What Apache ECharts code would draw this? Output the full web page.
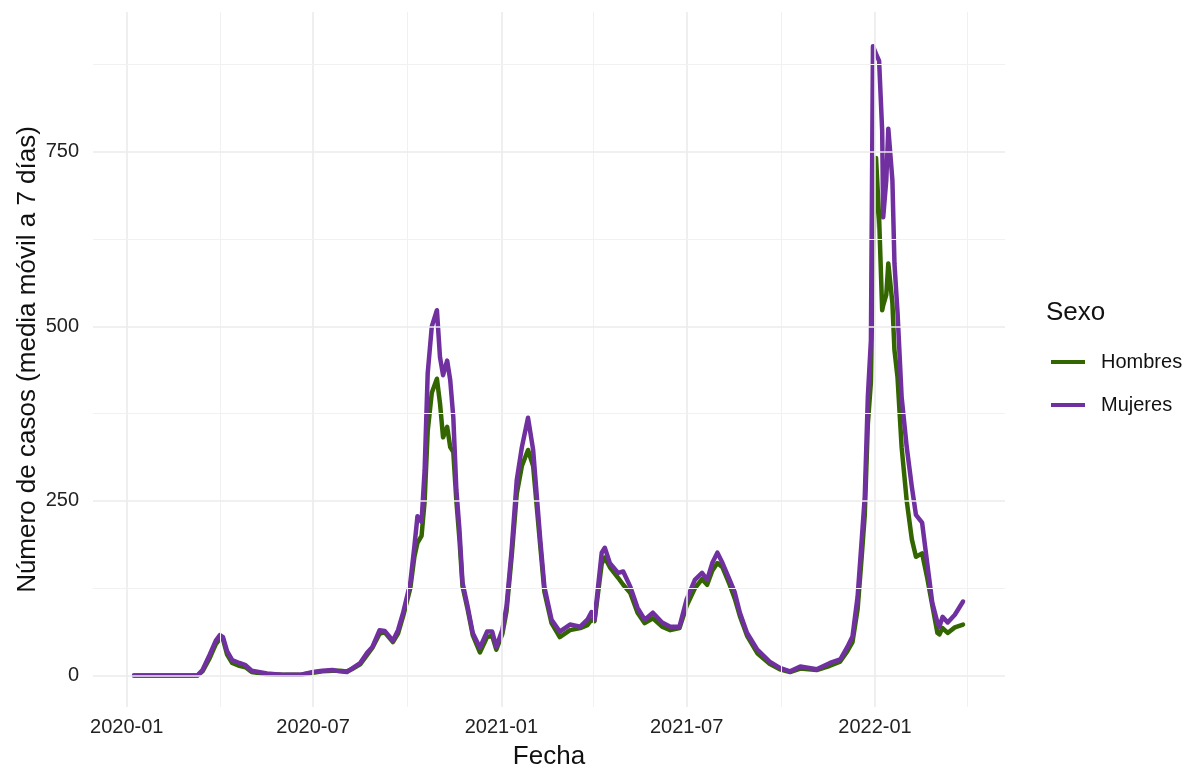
<!DOCTYPE html>
<html><head><meta charset="utf-8">
<script src="https://cdn.jsdelivr.net/npm/echarts@6/dist/echarts.min.js"></script>
<style>html,body{margin:0;padding:0;background:#fff}#c{width:1188px;height:765px}</style>
</head><body><div id="c"></div>
<script>
const dates = [
'2020-01-08','2020-02-02','2020-03-10','2020-03-15','2020-03-22','2020-03-28','2020-04-01','2020-04-04','2020-04-08','2020-04-13',
'2020-04-20','2020-04-26','2020-05-02','2020-05-17','2020-06-03','2020-06-18','2020-07-01','2020-07-10','2020-07-20','2020-07-27',
'2020-08-03','2020-08-09','2020-08-16','2020-08-23','2020-08-28','2020-09-04','2020-09-09','2020-09-17','2020-09-22','2020-09-27',
'2020-10-04','2020-10-08','2020-10-11','2020-10-15','2020-10-18','2020-10-21','2020-10-25','2020-10-30','2020-11-02','2020-11-05',
'2020-11-09','2020-11-12','2020-11-15','2020-11-18','2020-11-21','2020-11-24','2020-11-29','2020-12-04','2020-12-11','2020-12-18',
'2020-12-23','2020-12-27','2021-01-02','2021-01-06','2021-01-11','2021-01-16','2021-01-21','2021-01-27','2021-02-01','2021-02-08',
'2021-02-12','2021-02-19','2021-02-27','2021-03-09','2021-03-19','2021-03-26','2021-03-30','2021-04-02','2021-04-09','2021-04-12',
'2021-04-17','2021-04-25','2021-04-30','2021-05-07','2021-05-14','2021-05-21','2021-05-29','2021-06-07','2021-06-15','2021-06-24',
'2021-07-01','2021-07-09','2021-07-16','2021-07-21','2021-07-26','2021-07-31','2021-08-05','2021-08-12','2021-08-17','2021-08-22',
'2021-08-29','2021-09-08','2021-09-20','2021-09-30','2021-10-10','2021-10-20','2021-11-05','2021-11-18','2021-11-28','2021-12-05',
'2021-12-10','2021-12-15','2021-12-19','2021-12-22','2021-12-25','2021-12-28','2021-12-30','2022-01-02','2022-01-05','2022-01-08',
'2022-01-09','2022-01-12','2022-01-14','2022-01-18','2022-01-20','2022-01-23','2022-01-27','2022-02-01','2022-02-06','2022-02-10',
'2022-02-16','2022-02-21','2022-02-26','2022-03-03','2022-03-05','2022-03-08','2022-03-13','2022-03-20','2022-03-28'
];
const hombres = [
0,0,0,6,25,45,53,52,30,18,
14,12,5,2,1,1,4,6,7,7,
6,10,16,30,40,60,62,48,60,85,
125,170,190,200,250,350,405,425,390,341,
356,327,320,250,195,128,95,58,33,55,
57,37,60,92,170,260,300,323,300,185,
120,75,55,65,68,72,80,78,160,169,
155,140,130,118,90,75,82,70,65,68,
100,125,138,130,150,161,155,130,110,85,
57,32,17,9,5,10,8,14,20,35,
48,95,170,230,360,420,600,741,656,523,
530,545,590,533,466,427,327,250,195,170,
175,140,100,61,59,68,61,69,73
];
const mujeres = [
0,0,0,8,30,50,58,55,35,22,
18,15,7,3,1,1,5,7,8,6,
5,11,18,33,41,65,64,50,65,90,
133,185,228,220,294,433,500,523,456,430,
451,423,370,266,209,133,99,61,40,63,
63,41,66,99,180,280,327,369,323,194,
127,80,63,73,70,80,91,80,176,183,
161,147,149,127,97,80,90,76,70,70,
109,137,147,137,161,176,161,137,119,90,
61,37,20,11,6,13,9,18,23,41,
56,113,194,256,399,480,901,890,880,780,
656,709,783,709,590,520,399,327,270,230,
219,161,104,76,70,84,76,87,106
];
const seriesNames = ['Hombres','Mujeres'];
const seriesColors = ['#336600','#7030A0'];
const xMajorTicks = ['2020-01-01','2020-07-01','2021-01-01','2021-07-01','2022-01-01'];
const xMajorLabels = ['2020-01','2020-07','2021-01','2021-07','2022-01'];
const xMinorTicks = ['2020-04-01','2020-10-01','2021-04-01','2021-10-01','2022-04-01'];
const yMajorTicks = [0,250,500,750];
const yMinorTicks = [125,375,625,875];

const chart = echarts.init(document.getElementById('c'), null, {renderer:'canvas'});
const FONT = 'Liberation Sans, Arial, sans-serif';
const tickFont = {color:'#222222', fontSize:20, fontFamily:FONT};
const majorStyle = {color:'#EBEBEB', width:1.6, type:'solid'};
const minorStyle = {color:'#F1F1F1', width:1, type:'solid'};

const gridMarks = [];
xMajorTicks.forEach((d,i)=>gridMarks.push({xAxis:d, name:xMajorLabels[i], lineStyle:majorStyle,
  label:{show:true, position:'start', formatter:'{b}', distance:10, ...tickFont}}));
xMinorTicks.forEach(d=>gridMarks.push({xAxis:d, lineStyle:minorStyle, label:{show:false}}));
yMajorTicks.forEach(v=>gridMarks.push({yAxis:v, name:String(v), lineStyle:majorStyle,
  label:{show:true, position:'start', formatter:'{b}', distance:14, ...tickFont}}));
yMinorTicks.forEach(v=>gridMarks.push({yAxis:v, lineStyle:minorStyle, label:{show:false}}));

const lineBase = {type:'line', symbol:'none', showSymbol:false, smooth:false};
const option = {
  animation:false,
  backgroundColor:'#ffffff',
  grid:{left:93, right:183, top:12, bottom:58, containLabel:false, outerBoundsMode:'none'},
  xAxis:{type:'time', min:'2019-11-29', max:'2022-05-08',
    axisLine:{show:false}, axisTick:{show:false}, axisLabel:{show:false}, splitLine:{show:false},
    name:'Fecha', nameLocation:'middle', nameGap:37,
    nameTextStyle:{color:'#111111', fontSize:26, fontFamily:FONT}},
  yAxis:{type:'value', min:-45, max:950,
    axisLine:{show:false}, axisTick:{show:false}, axisLabel:{show:false}, splitLine:{show:false},
    name:'Número de casos (media móvil a 7 días)', nameLocation:'middle', nameGap:52, nameRotate:90,
    nameTextStyle:{color:'#111111', fontSize:26, fontFamily:FONT}},
  legend:{data:seriesNames, orient:'vertical', left:1046, top:345, icon:'rect',
    itemWidth:34, itemHeight:4, itemGap:19,
    textStyle:{color:'#111111', fontSize:20, fontFamily:FONT, padding:[0,0,0,11], lineHeight:24}},
  graphic:[{type:'text', left:1046, top:300, style:{text:'Sexo', fill:'#111111', fontSize:26, fontFamily:FONT}}],
  series:[
    {name:'grid', type:'line', data:[], z:1, silent:true,
      markLine:{silent:true, symbol:'none', animation:false, emphasis:{disabled:true}, data:gridMarks}},
    Object.assign({}, lineBase, {name:seriesNames[0], z:2,
      lineStyle:{color:seriesColors[0], width:4.5, cap:'round', join:'round'}, itemStyle:{color:seriesColors[0]},
      data:dates.map((d,i)=>[d,hombres[i]])}),
    Object.assign({}, lineBase, {name:seriesNames[1], z:3,
      lineStyle:{color:seriesColors[1], width:4.5, cap:'round', join:'round'}, itemStyle:{color:seriesColors[1]},
      data:dates.map((d,i)=>[d,mujeres[i]])})
  ]
};
chart.setOption(option);
</script></body></html>
